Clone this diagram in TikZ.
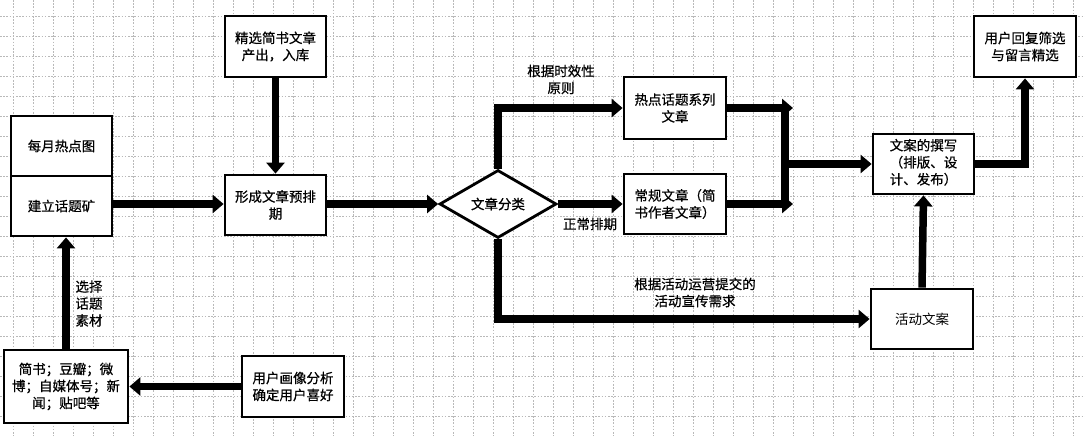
\documentclass[tikz,border=0pt]{standalone}
\usepackage{fontspec}
\newfontfamily\cjk[FakeBold=0.6]{Noto Sans CJK SC}
\newfontfamily\cjkthin{Noto Sans CJK SC}
\usetikzlibrary{arrows.meta,shapes.geometric,calc}
\begin{document}
\begin{tikzpicture}[x=1pt,y=-1pt,
  every node/.style={font=\cjk\fontsize{13.5}{17}\selectfont},
  box/.style={draw=black,line width=2.8pt,fill=white,inner sep=0pt,align=center},
  lab/.style={align=center,inner sep=0pt},
  flow/.style={line width=7.5pt,-{Triangle[length=11pt,width=18pt]}},
  bar/.style={line width=7.5pt},
  gridline/.style={gray!55,line width=0.8pt,dash pattern=on 1.6pt off 1.6pt}]
\fill[white] (0,0) rectangle (1085,436);
\useasboundingbox (0,0) rectangle (1085,436);
\foreach \i in {0,...,53} \draw[gridline] (13.33+20*\i,0) -- ++(0,436);
\foreach \j in {0,...,21} \draw[gridline] (0,16+20*\j) -- ++(1085,0);

% nodes
\node[box,minimum width=101pt,minimum height=60pt] (monthly) at (61.5,146) {每月热点图};
\node[box,minimum width=101pt,minimum height=60pt] (mine) at (61.5,206) {建立话题矿};
\node[box,minimum width=101pt,minimum height=61pt] (select) at (275.5,46.5) {精选简书文章\\产出，入库};
\node[box,minimum width=101pt,minimum height=60pt] (plan) at (275.5,205) {形成文章预排\\期};
\node[box,minimum width=124pt,minimum height=73pt] (src) at (66,386.5) {简书；豆瓣；微\\博；自媒体号；新\\闻；贴吧等};
\node[box,minimum width=102pt,minimum height=61pt] (user) at (293,386.5) {用户画像分析\\确定用户喜好};
\node[draw=black,line width=2.8pt,fill=white,diamond,aspect=1.72,minimum width=117pt,minimum height=68pt,inner sep=0pt] (cls) at (498,204) {文章分类};
\node[box,minimum width=102pt,minimum height=62pt] (hot) at (675,108) {热点话题系列\\文章};
\node[box,minimum width=102pt,minimum height=60pt] (reg) at (675,204) {常规文章（简\\书作者文章）};
\node[box,minimum width=101pt,minimum height=60pt] (copy) at (923.5,164) {\begin{tabular}{@{}l@{}}文案的撰写\\（排版、设\\计、发布）\end{tabular}};
\node[box,minimum width=102pt,minimum height=60pt,font=\cjkthin\fontsize{13.5}{17}\selectfont] (act) at (922,319) {活动文案};
\node[box,minimum width=102pt,minimum height=61pt] (reply) at (1025,46.5) {用户回复筛选\\与留言精选};

% labels
\node[lab] (l1) at (89,303.5) {选择\\话题\\素材};
\node[lab] (l2) at (561,79.5) {根据时效性\\原则};
\node[lab] (l3) at (590,224) {正常排期};
\node[lab] (l4) at (695,292.5) {根据活动运营提交的\\活动宣传需求};

% junction coordinates
\coordinate (hotend) at (793,108);
\coordinate (regend) at (793,204);
\coordinate (jt) at (785,108);
\coordinate (jb) at (785,204);
\coordinate (jm) at (785,164);

% connectors
\draw[flow] (mine.east |- cls.west) -- (plan.west |- cls.west);
\draw[flow] (select.south) -- (plan.north);
\draw[flow] (plan.east |- cls.west) -- (cls.west);
\draw[flow] (cls.north) |- (hot.west);
\draw[flow] (cls.east) -- (reg.west);
\draw[flow] (cls.south) |- (act.west);
\draw[flow] (hot.east) -- (hotend);
\draw[flow] (reg.east) -- (regend);
\draw[bar] (jt) -- (jb);
\draw[flow] (jm) -- (copy.west);
\draw[flow] (act.north) -- (copy.south);
\draw[flow] (copy.east) -| (reply.south);
\draw[flow] (user.west) -- (src.east);
\draw[flow] (src.north) -- (src.north |- mine.south);
\end{tikzpicture}
\end{document}
